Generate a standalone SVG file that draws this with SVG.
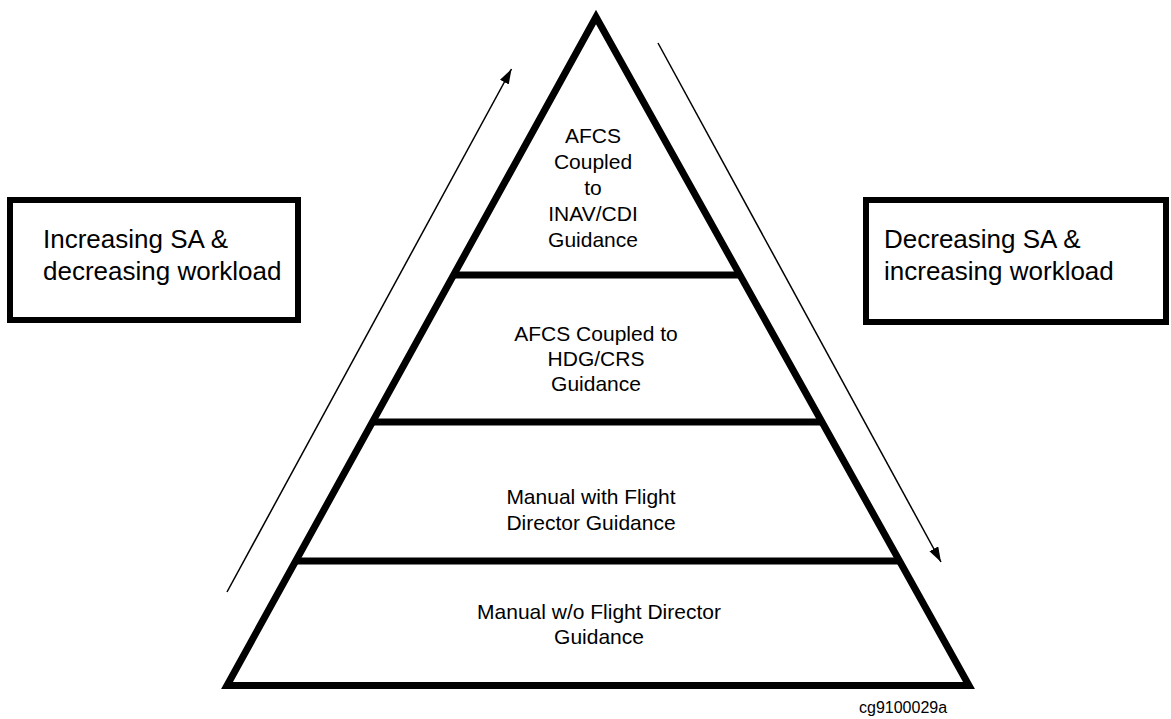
<svg xmlns="http://www.w3.org/2000/svg" width="1171" height="719" viewBox="0 0 1171 719">
  <defs>
    <marker id="arr" markerUnits="userSpaceOnUse" markerWidth="16" markerHeight="12" refX="15" refY="5" orient="auto">
      <path d="M0,0 L15,5 L0,10 z" fill="#000"/>
    </marker>
    <style>
      .thick { fill: none; stroke: #000; stroke-width: 7; stroke-linejoin: miter; stroke-miterlimit: 10; }
      .box { fill: #fff; stroke: #000; stroke-width: 6; }
      .t { font-family: "Liberation Sans", Arial, sans-serif; font-size: 21px; fill: #000; text-anchor: middle; }
      .bt { font-family: "Liberation Sans", Arial, sans-serif; font-size: 26px; fill: #000; }
      .cap { font-family: "Liberation Sans", Arial, sans-serif; font-size: 16px; fill: #000; }
      .conn { stroke: #000; stroke-width: 1.5; fill: none; }
    </style>
  </defs>
  <rect width="1171" height="719" fill="#fff"/>

  <g id="pyramid">
    <polygon class="thick" points="596,17 969,685.5 227,685.5"/>
  </g>

  <g id="level-top">
    <text class="t" x="593" y="143">AFCS</text>
    <text class="t" x="593" y="169">Coupled</text>
    <text class="t" x="593" y="195">to</text>
    <text class="t" x="593" y="221">INAV/CDI</text>
    <text class="t" x="593" y="247">Guidance</text>
  </g>

  <g id="level-2">
    <line class="thick" x1="453.6" y1="275" x2="740" y2="275"/>
    <text class="t" x="596" y="341">AFCS Coupled to</text>
    <text class="t" x="596" y="366">HDG/CRS</text>
    <text class="t" x="596" y="391">Guidance</text>
  </g>

  <g id="level-3">
    <line class="thick" x1="372.5" y1="422" x2="822" y2="422"/>
    <text class="t" x="591" y="504">Manual with Flight</text>
    <text class="t" x="591" y="530">Director Guidance</text>
  </g>

  <g id="level-4">
    <line class="thick" x1="295.7" y1="561" x2="899.5" y2="561"/>
    <text class="t" x="599" y="619">Manual w/o Flight Director</text>
    <text class="t" x="599" y="644">Guidance</text>
  </g>

  <g id="box-left">
    <rect class="box" x="10" y="200" width="288" height="120"/>
    <text class="bt" x="43" y="248">Increasing SA &amp;</text>
    <text class="bt" x="43" y="280">decreasing workload</text>
  </g>

  <g id="box-right">
    <rect class="box" x="866" y="200" width="300" height="122"/>
    <text class="bt" x="884" y="248">Decreasing SA &amp;</text>
    <text class="bt" x="884" y="280">increasing workload</text>
  </g>

  <g id="connectors">
    <line class="conn" x1="227" y1="592" x2="511.5" y2="69" marker-end="url(#arr)"/>
    <line class="conn" x1="658" y1="43" x2="941" y2="562" marker-end="url(#arr)"/>
  </g>

  <g id="caption">
    <text class="cap" x="859" y="713">cg9100029a</text>
  </g>
</svg>
